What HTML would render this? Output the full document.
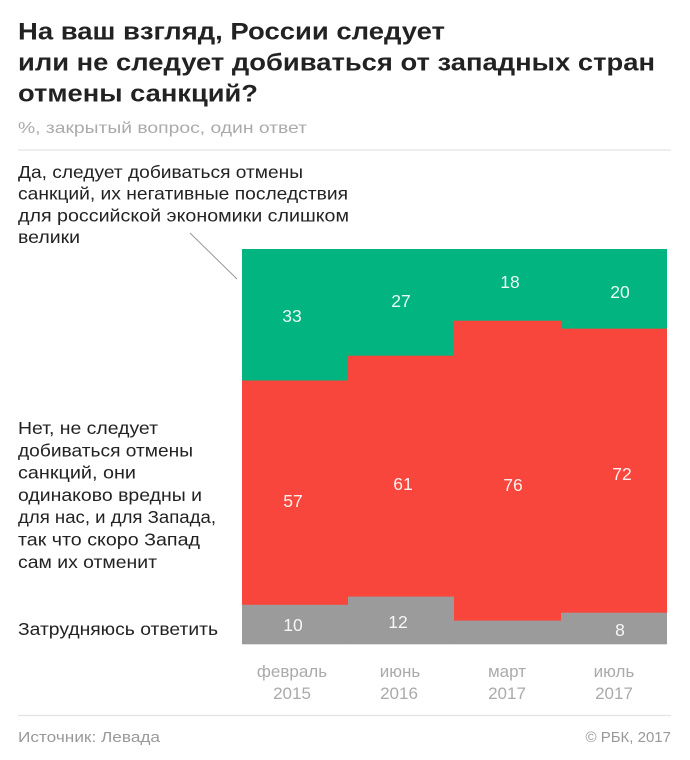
<!DOCTYPE html>
<html>
<head>
<meta charset="utf-8">
<style>
html,body{margin:0;padding:0;background:#fff;}
svg{display:block;}
text{font-family:"Liberation Sans","Noto Sans CJK SC",sans-serif;}
</style>
</head>
<body>
<svg width="690" height="760" viewBox="0 0 690 760" xmlns="http://www.w3.org/2000/svg">
<rect x="0" y="0" width="690" height="760" fill="#ffffff"/>
<!-- Title -->
<g font-weight="bold" font-size="24.5" fill="#222">
<text x="18" y="39.5" textLength="427" lengthAdjust="spacingAndGlyphs">На ваш взгляд, России следует</text>
<text x="18" y="70.5" textLength="637" lengthAdjust="spacingAndGlyphs">или не следует добиваться от западных стран</text>
<text x="18" y="101.5" textLength="240" lengthAdjust="spacingAndGlyphs">отмены санкций?</text>
</g>
<text x="18" y="133" font-size="16" fill="#aaa" textLength="289" lengthAdjust="spacingAndGlyphs">%, закрытый вопрос, один ответ</text>
<line x1="18" y1="150" x2="671" y2="150" stroke="#e3e3e3" stroke-width="1.2"/>

<!-- Label 1 -->
<g font-size="17.5" fill="#222">
<text x="18" y="177.8" textLength="285" lengthAdjust="spacingAndGlyphs">Да, следует добиваться отмены</text>
<text x="18" y="199.6" textLength="330" lengthAdjust="spacingAndGlyphs">санкций, их негативные последствия</text>
<text x="18" y="221.4" textLength="331" lengthAdjust="spacingAndGlyphs">для российской экономики слишком</text>
<text x="18" y="243.2" textLength="62" lengthAdjust="spacingAndGlyphs">велики</text>
</g>
<line x1="190" y1="233" x2="237" y2="279" stroke="#999" stroke-width="1"/>

<!-- Label 2 -->
<g font-size="17.5" fill="#222">
<text x="18" y="434" textLength="140" lengthAdjust="spacingAndGlyphs">Нет, не следует</text>
<text x="18" y="456.3" textLength="175" lengthAdjust="spacingAndGlyphs">добиваться отмены</text>
<text x="18" y="478.6" textLength="118" lengthAdjust="spacingAndGlyphs">санкций, они</text>
<text x="18" y="500.9" textLength="184" lengthAdjust="spacingAndGlyphs">одинаково вредны и</text>
<text x="18" y="523.2" textLength="198" lengthAdjust="spacingAndGlyphs">для нас, и для Запада,</text>
<text x="18" y="545.5" textLength="182" lengthAdjust="spacingAndGlyphs">так что скоро Запад</text>
<text x="18" y="567.8" textLength="139" lengthAdjust="spacingAndGlyphs">сам их отменит</text>
<text x="18" y="635" textLength="200" lengthAdjust="spacingAndGlyphs">Затрудняюсь ответить</text>
</g>

<!-- Chart columns -->
<rect x="242" y="249" width="106.5" height="132" fill="#02b47f"/>
<rect x="242" y="380.5" width="106.5" height="225" fill="#f9463c"/>
<rect x="242" y="604.8" width="106.5" height="39.5" fill="#9b9b9b"/>
<rect x="348" y="249" width="106.5" height="107" fill="#02b47f"/>
<rect x="348" y="355.7" width="106.5" height="241.3" fill="#f9463c"/>
<rect x="348" y="596.6" width="106.5" height="47.7" fill="#9b9b9b"/>
<rect x="454" y="249" width="107" height="72" fill="#02b47f"/>
<rect x="454" y="320.7" width="107" height="300.3" fill="#f9463c"/>
<rect x="454" y="620.6" width="107" height="23.7" fill="#9b9b9b"/>
<rect x="561" y="249" width="106" height="80" fill="#02b47f"/>
<rect x="561" y="328.6" width="106" height="284.4" fill="#f9463c"/>
<rect x="561" y="612.7" width="106" height="31.6" fill="#9b9b9b"/>

<!-- Value labels -->
<g font-size="17.5" fill="#ffffff" fill-opacity="0.92" text-anchor="middle">
<text x="292" y="322">33</text>
<text x="401" y="307">27</text>
<text x="510" y="288">18</text>
<text x="620" y="298">20</text>
<text x="293" y="507">57</text>
<text x="403" y="490">61</text>
<text x="513" y="491">76</text>
<text x="622" y="480">72</text>
<text x="293" y="631">10</text>
<text x="398" y="628">12</text>
<text x="620" y="636">8</text>
</g>

<!-- X labels -->
<g font-size="17" fill="#aaa" text-anchor="middle">
<text x="292" y="677">февраль</text>
<text x="292" y="699">2015</text>
<text x="400" y="677">июнь</text>
<text x="399" y="699">2016</text>
<text x="507" y="677">март</text>
<text x="507" y="699">2017</text>
<text x="614" y="677">июль</text>
<text x="614" y="699">2017</text>
</g>

<!-- Footer -->
<line x1="18" y1="715.5" x2="671" y2="715.5" stroke="#e3e3e3" stroke-width="1.2"/>
<text x="18" y="742" font-size="15" fill="#999" textLength="142" lengthAdjust="spacingAndGlyphs">Источник: Левада</text>
<text x="671" y="742" font-size="15" fill="#999" text-anchor="end">© РБК, 2017</text>
</svg>
</body>
</html>
